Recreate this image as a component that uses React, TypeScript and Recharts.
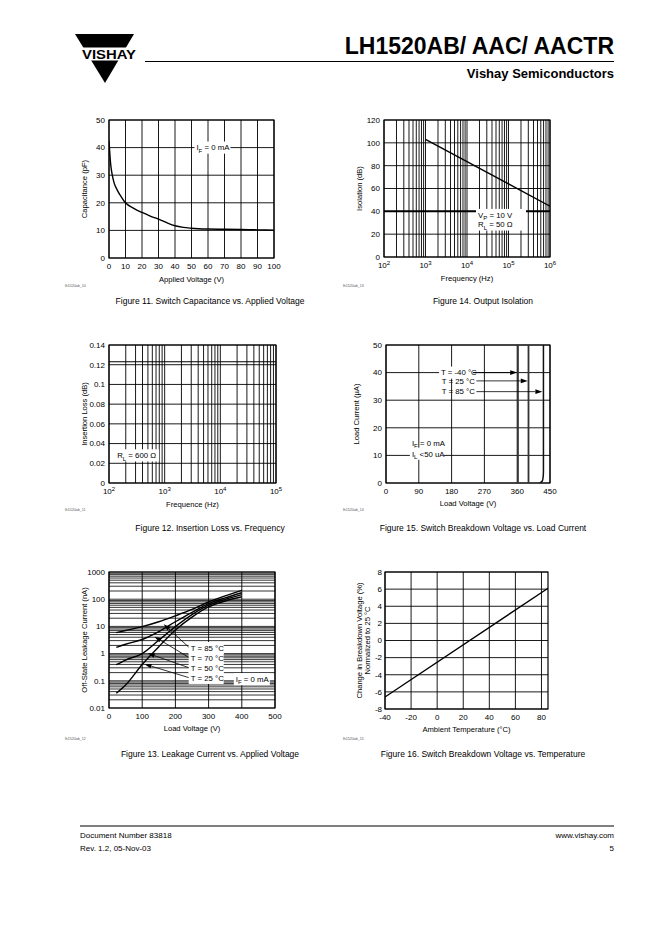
import React from 'react';
import { LineChart, Line, XAxis, YAxis, ReferenceLine, ReferenceDot, ReferenceArea } from 'recharts';

const FONT = '"Liberation Sans", Arial, Helvetica, sans-serif';

// Figure 11 - switch capacitance vs applied voltage
const capVolts = [0, 1, 2, 3, 5, 7, 10, 15, 20, 25, 30, 35, 40, 45, 50, 60, 70, 80, 90, 100];
const capPf = [42.5, 34, 30, 27.4, 24.6, 22.6, 20, 18, 16.5, 15.2, 14.1, 12.8, 11.7, 11.1, 10.8, 10.5, 10.4, 10.3, 10.2, 10.1];
const capTicksX = [0, 10, 20, 30, 40, 50, 60, 70, 80, 90, 100];
const capTicksY = [0, 10, 20, 30, 40, 50];

// Figure 14 - output isolation
const isoFreq = [1e3, 1e4, 1e5, 1e6];
const isoDb = [103, 83.5, 64, 44.5];
const isoTicksX = [1e2, 1e3, 1e4, 1e5, 1e6];
const isoTicksY = [0, 20, 40, 60, 80, 100, 120];

// Figure 12 - insertion loss
const ilFreq = [1e2, 1e5];
const ilDb = [0.123, 0.123];
const ilTicksX = [1e2, 1e3, 1e4, 1e5];
const ilTicksY = [0, 0.02, 0.04, 0.06, 0.08, 0.1, 0.12, 0.14];

// Figure 15 - breakdown voltage vs load current
const bdVoltsM40 = [362, 362];
const bdCurM40 = [0, 50];
const bdVolts25 = [391, 391];
const bdCur25 = [0, 50];
const bdVolts85 = [422, 429, 431, 432, 432];
const bdCur85 = [0, 0.8, 2, 4, 50];
const bdTicksX = [0, 90, 180, 270, 360, 450];
const bdTicksY = [0, 10, 20, 30, 40, 50];

// Figure 13 - leakage current vs applied voltage
const leakV = [22, 50, 100, 150, 200, 250, 300, 350, 400];
const leak85 = [5.9, 7.1, 9.8, 14.8, 24.5, 42, 79, 132, 214];
const leak70 = [1.7, 2.2, 3.3, 6.4, 14.8, 33, 69, 112, 174];
const leak50 = [0.39, 0.58, 1.0, 3.1, 9.8, 27, 60, 98, 147];
const leak25 = [0.035, 0.07, 0.4, 1.8, 7.4, 22, 52, 86, 123];
const leakTicksX = [0, 100, 200, 300, 400, 500];
const leakTicksY = [0.01, 0.1, 1, 10, 100, 1000];

// Figure 16 - breakdown voltage vs temperature
const tempC = [-40, 85];
const bdChange = [-6.6, 6.1];
const tempTicksX = [-40, -20, 0, 20, 40, 60, 80];
const tempTicksY = [-8, -6, -4, -2, 0, 2, 4, 6, 8];

const zip = (xs: number[], ys: number[]) => xs.map((x, i) => ({ x, y: ys[i] }));

// log grid positions 1..9 x 10^d
const logSteps = (lo: number, hi: number) => {
  const out: number[] = [];
  for (let d = lo; d < hi; d++) for (let k = 1; k < 10; k++) out.push(k * Math.pow(10, d));
  out.push(Math.pow(10, hi));
  return out;
};

const vGrid = (vals: number[], w = 0.9) =>
  vals.map((v) => <ReferenceLine key={'v' + v} x={v} stroke="#000" strokeWidth={w} />);
const hGrid = (vals: number[], w = 0.9) =>
  vals.map((v) => <ReferenceLine key={'h' + v} y={v} stroke="#000" strokeWidth={w} />);

type Part = string | { sub: string };

function rich(parts: Part[], size: number) {
  let low = false;
  return parts.map((p, i) => {
    if (typeof p === 'string') {
      const el = (
        <tspan key={i} dy={low ? -size * 0.3 : 0}>
          {p}
        </tspan>
      );
      low = false;
      return el;
    }
    low = true;
    return (
      <tspan key={i} dy={size * 0.3} fontSize={size * 0.78}>
        {p.sub}
      </tspan>
    );
  });
}

const note = (lines: Part[][], bgW = 0, size = 7.8, lh = 9.5) => (p: any) => {
  const { cx, cy } = p;
  return (
    <g>
      {bgW > 0 && (
        <rect
          x={cx - 2}
          y={cy - size * 0.65 - 1}
          width={bgW}
          height={(lines.length - 1) * lh + size * 1.3 + 2}
          fill="#fff"
        />
      )}
      {lines.map((l, i) => (
        <text key={i} x={cx} y={cy + i * lh + size * 0.36} fontSize={size} fontFamily={FONT} fill="#000">
          {rich(l, size)}
        </text>
      ))}
    </g>
  );
};

const arrow = (p: any) => {
  const { x1, y1, x2, y2 } = p;
  const dx = x2 - x1;
  const dy = y2 - y1;
  const len = Math.hypot(dx, dy) || 1;
  const ux = dx / len;
  const uy = dy / len;
  const L = 7;
  const W = 2.3;
  const bx = x2 - ux * L;
  const by = y2 - uy * L;
  return (
    <g>
      <line x1={x1} y1={y1} x2={bx} y2={by} stroke="#000" strokeWidth={0.8} />
      <polygon points={`${x2},${y2} ${bx - uy * W},${by + ux * W} ${bx + uy * W},${by - ux * W}`} fill="#000" />
    </g>
  );
};

const yTitle = (lines: string[], off: number, gap = 9) => (p: any) => {
  const vb = p.viewBox;
  const ax = vb.x + vb.width;
  const cy = vb.y + vb.height / 2;
  return (
    <g>
      {lines.map((t, i) => {
        const x = ax - off + i * gap + 2.7;
        return (
          <text key={i} x={x} y={cy} transform={`rotate(-90 ${x} ${cy})`} textAnchor="middle" fontSize={7.6} fontFamily={FONT} fill="#000">
            {t}
          </text>
        );
      })}
    </g>
  );
};

const xTitle = (t: string, dy = 23.5) => (p: any) => {
  const vb = p.viewBox;
  return (
    <text x={vb.x + vb.width / 2} y={vb.y + dy} textAnchor="middle" fontSize={7.6} fontFamily={FONT} fill="#000">
      {t}
    </text>
  );
};

const LogTick = (p: any) => {
  const e = Math.round(Math.log10(p.payload.value));
  return (
    <text x={p.x} y={p.y + 6} textAnchor="middle" fontSize={8} fontFamily={FONT} fill="#000">
      10
      <tspan dy={-3.5} fontSize={6}>
        {e}
      </tspan>
    </text>
  );
};

const tickStyle = { fontSize: 8, fill: '#000', fontFamily: FONT };
const YW = 30;
const ML = 22;
const MT = 6;
const MR = 10;
const XH = 32;

function Panel({ box, children }: { box: number[]; children: React.ReactNode }) {
  const [x0, y0, x1, y1] = box;
  return (
    <div style={{ position: 'absolute', left: x0 - YW - ML, top: y0 - MT }}>
      <LineChart
        width={ML + YW + x1 - x0 + MR}
        height={MT + y1 - y0 + XH}
        margin={{ top: MT, right: MR, bottom: 0, left: ML }}
      >
        {children}
      </LineChart>
    </div>
  );
}

const xAxisProps = { dataKey: 'x', type: 'number' as const, height: XH, tickLine: false, axisLine: false, tickSize: 0, tickMargin: 5, tick: tickStyle, interval: 0 as const, allowDataOverflow: true };
const yAxisProps = { type: 'number' as const, width: YW, tickLine: false, axisLine: false, tickSize: 0, tickMargin: 4, tick: tickStyle, interval: 0 as const, allowDataOverflow: true };
const lineProps = { dataKey: 'y', stroke: '#000', strokeWidth: 1.4, dot: false, isAnimationActive: false, activeDot: false };

const border = (x1: number, x2: number, y1: number, y2: number) => (
  <ReferenceArea x1={x1} x2={x2} y1={y1} y2={y2} fill="none" stroke="#000" strokeWidth={1.2} fillOpacity={0} />
);

function Fig11() {
  return (
    <Panel box={[109, 120, 274, 258]}>
      <XAxis {...xAxisProps} domain={[0, 100]} ticks={capTicksX} label={xTitle('Applied Voltage (V)')} />
      <YAxis {...yAxisProps} domain={[0, 50]} ticks={capTicksY} label={yTitle(['Capacitance (pF)'], 25)} />
      {vGrid(capTicksX)}
      {hGrid(capTicksY)}
      {border(0, 100, 0, 50)}
      <Line {...lineProps} type="monotone" data={zip(capVolts, capPf)} />
      <ReferenceDot x={53} y={40} shape={note([['I', { sub: 'F' }, ' = 0 mA']], 36)} />
    </Panel>
  );
}

function Fig14() {
  return (
    <Panel box={[384, 120, 550, 257]}>
      <XAxis {...xAxisProps} scale="log" domain={[1e2, 1e6]} ticks={isoTicksX} tick={LogTick} label={xTitle('Frequency (Hz)')} />
      <YAxis {...yAxisProps} domain={[0, 120]} ticks={isoTicksY} label={yTitle(['Isolation (dB)'], 25)} />
      {vGrid(logSteps(2, 6))}
      {hGrid(isoTicksY.filter((v) => v !== 40))}
      <ReferenceLine y={40} stroke="#000" strokeWidth={2} />
      {border(1e2, 1e6, 0, 120)}
      <ReferenceDot
        x={1.84e4}
        y={36.8}
        shape={note([['V', { sub: 'P' }, ' = 10 V'], ['R', { sub: 'L' }, ' = 50 \u03a9']], 50)}
      />
      <Line {...lineProps} type="linear" data={zip(isoFreq, isoDb)} />
    </Panel>
  );
}

function Fig12() {
  return (
    <Panel box={[109, 345, 276, 483]}>
      <XAxis {...xAxisProps} scale="log" domain={[1e2, 1e5]} ticks={ilTicksX} tick={LogTick} label={xTitle('Frequence (Hz)')} />
      <YAxis {...yAxisProps} domain={[0, 0.14]} ticks={ilTicksY} label={yTitle(['Insertion Loss (dB)'], 25)} />
      {vGrid(logSteps(2, 5))}
      {hGrid(ilTicksY)}
      {border(1e2, 1e5, 0, 0.14)}
      <Line {...lineProps} strokeWidth={1} type="linear" data={zip(ilFreq, ilDb)} />
      <ReferenceDot x={140} y={0.028} shape={note([['R', { sub: 'L' }, ' = 600 \u03a9']], 44)} />
    </Panel>
  );
}

function Fig15() {
  return (
    <Panel box={[386, 345, 550, 483]}>
      <XAxis {...xAxisProps} domain={[0, 450]} ticks={bdTicksX} label={xTitle('Load Voltage (V)', 22.5)} />
      <YAxis {...yAxisProps} domain={[0, 50]} ticks={bdTicksY} label={yTitle(['Load Current (\u00b5A)'], 30)} />
      {vGrid(bdTicksX)}
      {hGrid(bdTicksY)}
      {border(0, 450, 0, 50)}
      <Line {...lineProps} stroke="#333" strokeWidth={1.8} type="linear" data={zip(bdVoltsM40, bdCurM40)} />
      <Line {...lineProps} stroke="#333" strokeWidth={1.8} type="linear" data={zip(bdVolts25, bdCur25)} />
      <Line {...lineProps} stroke="#111" strokeWidth={1.5} type="monotone" data={zip(bdVolts85, bdCur85)} />
      <ReferenceLine segment={[{ x: 236, y: 40 }, { x: 360, y: 40 }]} shape={arrow} />
      <ReferenceLine segment={[{ x: 248, y: 37 }, { x: 389, y: 37 }]} shape={arrow} />
      <ReferenceLine segment={[{ x: 248, y: 33.1 }, { x: 429, y: 33.1 }]} shape={arrow} />
      <ReferenceDot x={151} y={40} shape={note([['T = -40 \u00b0C']], 34)} />
      <ReferenceDot x={153} y={37} shape={note([['T = 25 \u00b0C']], 0)} />
      <ReferenceDot x={153} y={33.1} shape={note([['T = 85 \u00b0C']], 0)} />
      <ReferenceDot x={71} y={14.5} shape={note([['I', { sub: 'F' }, ' = 0 mA']], 0)} />
      <ReferenceDot x={71} y={10.6} shape={note([['I', { sub: 'L' }, ' <50 uA']], 34)} />
    </Panel>
  );
}

function Fig13() {
  return (
    <Panel box={[109, 572, 275, 708]}>
      <XAxis {...xAxisProps} domain={[0, 500]} ticks={leakTicksX} label={xTitle('Load Voltage (V)', 22.5)} />
      <YAxis
        {...yAxisProps}
        scale="log"
        domain={[0.01, 1000]}
        ticks={leakTicksY}
        label={yTitle(['Off-State Leakage Current (nA)'], 25)}
      />
      {vGrid(leakTicksX)}
      {hGrid(logSteps(-2, 3), 0.8)}
      {border(0, 500, 0.01, 1000)}
      <Line {...lineProps} type="monotone" data={zip(leakV, leak85)} />
      <Line {...lineProps} type="monotone" data={zip(leakV, leak70)} />
      <Line {...lineProps} type="monotone" data={zip(leakV, leak50)} />
      <Line {...lineProps} type="monotone" data={zip(leakV, leak25)} />
      <ReferenceLine segment={[{ x: 243, y: 1.6 }, { x: 165, y: 12.1 }]} shape={arrow} />
      <ReferenceLine segment={[{ x: 243, y: 0.69 }, { x: 137, y: 4.2 }]} shape={arrow} />
      <ReferenceLine segment={[{ x: 243, y: 0.297 }, { x: 117, y: 1.02 }]} shape={arrow} />
      <ReferenceLine segment={[{ x: 243, y: 0.128 }, { x: 107, y: 0.41 }]} shape={arrow} />
      <ReferenceDot x={246} y={1.6} shape={note([['T = 85 \u00b0C']], 35)} />
      <ReferenceDot x={246} y={0.69} shape={note([['T = 70 \u00b0C']], 35)} />
      <ReferenceDot x={246} y={0.297} shape={note([['T = 50 \u00b0C']], 35)} />
      <ReferenceDot x={246} y={0.128} shape={note([['T = 25 \u00b0C']], 35)} />
      <ReferenceDot x={382} y={0.115} shape={note([['I', { sub: 'F' }, ' = 0 mA']], 36)} />
    </Panel>
  );
}

function Fig16() {
  return (
    <Panel box={[385, 572, 548, 709]}>
      <XAxis {...xAxisProps} domain={[-40, 85]} ticks={tempTicksX} label={xTitle('Ambient Temperature (\u00b0C)', 22.5)} />
      <YAxis
        {...yAxisProps}
        tickMargin={3}
        domain={[-8, 8]}
        ticks={tempTicksY}
        label={yTitle(['Change in Breakdown Voltage (%)', 'Normalized to 25 \u00b0C'], 26, 8)}
      />
      {vGrid(tempTicksX)}
      {hGrid(tempTicksY)}
      {border(-40, 85, -8, 8)}
      <Line {...lineProps} type="linear" data={zip(tempC, bdChange)} />
    </Panel>
  );
}

const captions = [
  { x: 210, y: 304, t: 'Figure 11. Switch Capacitance vs. Applied Voltage' },
  { x: 483, y: 304, t: 'Figure 14. Output Isolation' },
  { x: 210, y: 531, t: 'Figure 12. Insertion Loss vs. Frequency' },
  { x: 483, y: 531, t: 'Figure 15. Switch Breakdown Voltage vs. Load Current' },
  { x: 210, y: 757, t: 'Figure 13. Leakage Current vs. Applied Voltage' },
  { x: 483, y: 757, t: 'Figure 16. Switch Breakdown Voltage vs. Temperature' },
];

const figIds = [
  { x: 65, y: 287, t: 'lh1520ab_10' },
  { x: 343, y: 287, t: 'lh1520ab_13' },
  { x: 65, y: 511, t: 'lh1520ab_11' },
  { x: 343, y: 511, t: 'lh1520ab_14' },
  { x: 65, y: 740, t: 'lh1520ab_12' },
  { x: 343, y: 740, t: 'lh1520ab_15' },
];

export default function App() {
  return (
    <div style={{ position: 'absolute', left: 0, top: 0, width: 662, height: 936, background: '#fff', fontFamily: FONT, overflow: 'hidden' }}>
      <svg width={662} height={936} style={{ position: 'absolute', left: 0, top: 0 }} fontFamily={FONT}>
        <polygon points="75,34 134,34 105,83" fill="#000" />
        <rect x={68} y={47.5} width={74} height={13} fill="#fff" />
        <text x={109} y={58.5} textAnchor="middle" fontSize={12} fontWeight="bold" textLength={54} lengthAdjust="spacingAndGlyphs">
          VISHAY
        </text>
        <text x={614} y={54} textAnchor="end" fontSize={23} fontWeight="bold">
          LH1520AB/ AAC/ AACTR
        </text>
        <line x1={145} x2={614} y1={61.5} y2={61.5} stroke="#000" strokeWidth={1} />
        <text x={614} y={78} textAnchor="end" fontSize={13} fontWeight="bold">
          Vishay Semiconductors
        </text>
        {captions.map((c) => (
          <text key={c.t} x={c.x} y={c.y} textAnchor="middle" fontSize={8.5}>
            {c.t}
          </text>
        ))}
        {figIds.map((c) => (
          <text key={c.t} x={c.x} y={c.y} fontSize={3.6} fill="#555">
            {c.t}
          </text>
        ))}
        <line x1={80} x2={614} y1={826} y2={826} stroke="#000" strokeWidth={1} />
        <text x={80} y={837.5} fontSize={8}>Document Number 83818</text>
        <text x={80} y={850.5} fontSize={8}>Rev. 1.2, 05-Nov-03</text>
        <text x={614} y={837.5} fontSize={8} textAnchor="end">www.vishay.com</text>
        <text x={614} y={850.5} fontSize={8} textAnchor="end">5</text>
      </svg>
      <Fig11 />
      <Fig14 />
      <Fig12 />
      <Fig15 />
      <Fig13 />
      <Fig16 />
    </div>
  );
}
